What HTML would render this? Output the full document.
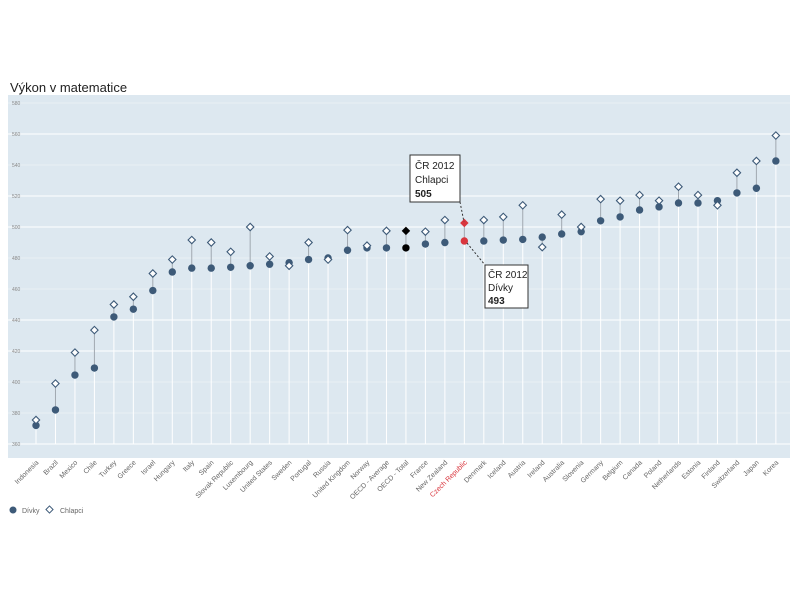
<!DOCTYPE html>
<html><head><meta charset="utf-8"><style>
body{margin:0;background:#fff;}
svg{display:block;font-family:"Liberation Sans",sans-serif;}
</style></head><body>
<svg id="c" width="794" height="595" xmlns="http://www.w3.org/2000/svg">
<text x="10" y="92" font-size="13" fill="#222">Výkon v matematice</text>
<rect x="8" y="95" width="782" height="363" fill="#dde8f0"/>
<g id="grid"></g><g id="marks"></g><g id="xl"></g>
<g>
<line x1="460" y1="202" x2="464" y2="222" stroke="#333" stroke-dasharray="2,2"/>
<rect x="410" y="155" width="50" height="47" fill="#fff" stroke="#333"/>
<text x="415" y="169" font-size="10" fill="#222">ČR 2012</text>
<text x="415" y="183" font-size="10" fill="#222">Chlapci</text>
<text x="415" y="197" font-size="10" font-weight="bold" fill="#222">505</text>
</g>
<g>
<line x1="467" y1="243" x2="485" y2="265" stroke="#333" stroke-dasharray="2,2"/>
<rect x="485" y="265" width="43" height="43" fill="#fff" stroke="#333"/>
<text x="488" y="278" font-size="10" fill="#222">ČR 2012</text>
<text x="488" y="291" font-size="10" fill="#222">Dívky</text>
<text x="488" y="304" font-size="10" font-weight="bold" fill="#222">493</text>
</g>
<g>
<circle cx="13" cy="510" r="3.5" fill="#3d5a78"/>
<text x="22" y="513" font-size="7" fill="#666">Dívky</text>
<rect x="47" y="507" width="5" height="5" fill="none" stroke="#3d5a78" transform="rotate(45 49.5 509.5)"/>
<text x="60" y="513" font-size="7" fill="#666">Chlapci</text>
</g>
</svg>
<script>
const countries=["Indonesia","Brazil","Mexico","Chile","Turkey","Greece","Israel","Hungary","Italy","Spain","Slovak Republic","Luxembourg","United States","Sweden","Portugal","Russia","United Kingdom","Norway","OECD - Average","OECD - Total","France","New Zealand","Czech Republic","Denmark","Iceland","Austria","Ireland","Australia","Slovenia","Germany","Belgium","Canada","Poland","Netherlands","Estonia","Finland","Switzerland","Japan","Korea"];
const girls=[372,382,404.5,409,442,447,459,471,473.5,473.5,474,475,476,477,479,480,485,486.5,486.5,486.5,489,490,491,491,491.6,492,493.5,495.5,497,504,506.5,511,513,515.5,515.5,517,522,525,542.6];
const boys=[375.5,399,419,433.5,450,455,470,479,491.6,490,484,500,481,475,490,479,498,488,497.5,497.5,497,504.5,502.6,504.5,506.5,514,487,508,500,518,517,520.6,517,526,520.6,514,535,542.6,559];
const yTicks=[580,560,540,520,500,480,460,440,420,400,380,360];
const strongTicks=[560,520,500,440,420,360];
const NS="http://www.w3.org/2000/svg";
const y=v=>227-(v-500)*1.55;
const x=i=>36+i*19.47;
function mk(t,a,p){const e=document.createElementNS(NS,t);for(const k in a)e.setAttribute(k,a[k]);p.appendChild(e);return e;}
const grid=document.getElementById('grid'),marks=document.getElementById('marks'),xl=document.getElementById('xl');
yTicks.forEach(v=>{
 const s=strongTicks.includes(v);
 const l=mk('line',{x1:8,x2:790,y1:y(v),y2:y(v),stroke:'#fff','stroke-width':1,'stroke-opacity':s?1:0.35},grid);
 
 
 const t=mk('text',{x:12,y:y(v)+2,'font-size':5,fill:'#888'},grid);
 t.textContent=v;
 
 
});
countries.forEach((c,i)=>{
 const cx=x(i),gy=y(girls[i]),by=y(boys[i]);
 const low=Math.max(gy,by);
 const vl=mk('line',{x1:cx,x2:cx,y1:444,y2:low+4,stroke:'#fff','stroke-width':1},marks);
 
 
 const cl=mk('line',{x1:cx,x2:cx,y1:gy,y2:by,stroke:'#a0a8b0','stroke-width':1},marks);
 
 
 const isCz=c==="Czech Republic",isT=c==="OECD - Total";
 const col=isCz?'#d9363e':isT?'#000':'#3d5a78';
 const g=mk('circle',{cx:cx,cy:gy,r:3.7,fill:col},marks);
 
 
 let b;
 if(isCz||isT){b=mk('rect',{x:cx-3,y:by-3,width:6,height:6,fill:col,transform:`rotate(45 ${cx} ${by})`},marks);}
 else{b=mk('rect',{x:cx-2.6,y:by-2.6,width:5.2,height:5.2,fill:'#fff',stroke:'#3d5a78','stroke-width':1.1,transform:`rotate(45 ${cx} ${by})`},marks);}
 
 
 const t=mk('text',{x:cx+3,y:463,'font-size':7,fill:isCz?'#d9363e':'#666','text-anchor':'end',transform:`rotate(-45 ${cx+3} 463)`},xl);
 t.textContent=c;
 
 
});
</script>
</body></html>
